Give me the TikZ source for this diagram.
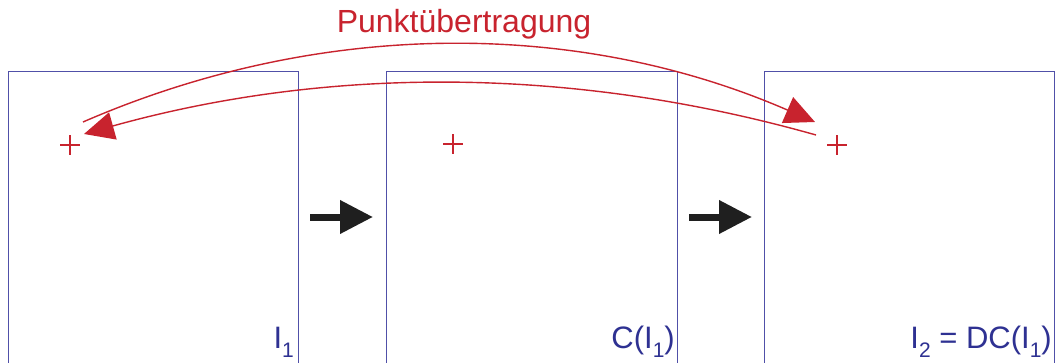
\documentclass[tikz,border=0pt]{standalone}
\usepackage{fontspec}
\setmainfont{Liberation Sans}
\usetikzlibrary{arrows.meta}
\definecolor{boxblue}{HTML}{5050A8}
\definecolor{txtblue}{HTML}{2E3192}
\definecolor{pred}{HTML}{C8232E}
\newcommand\lowidx[1]{\raisebox{-9pt}{\fontsize{21}{21}\selectfont #1}}
\begin{document}
\begin{tikzpicture}[x=1pt,y=1pt,
  frame/.style={draw=boxblue, line width=1pt, minimum width=290pt, minimum height=310pt, anchor=north west, inner sep=0pt, outer sep=0pt},
  cross/.style={draw=pred, line width=1.3pt},
  transfer/.style={draw=pred, line width=1.4pt, -{Triangle[length=30pt,width=28pt]}},
  flow/.style={draw=black!88, line width=7pt, -{Triangle[length=33pt,width=32pt]}},
  lab/.style={text=txtblue, font=\fontsize{31}{37}\selectfont, anchor=base east, inner sep=0pt},
  ttl/.style={text=pred, font=\fontsize{32}{38}\selectfont, anchor=base, inner sep=0pt}]
\useasboundingbox (0,0) rectangle (1055,362);
\clip (0,0) rectangle (1055,362);
\fill[white] (0,0) rectangle (1055,362);
% frames
\node[frame] (b1) at (8,290) {};
\node[frame, minimum width=291pt] (b2) at (386,290) {};
\node[frame] (b3) at (764,290) {};
% points
\coordinate (p1) at (70,217);
\coordinate (p2) at (453,218);
\coordinate (p3) at (837,217);
\foreach \p in {p1,p2,p3}{
  \draw[cross] ([xshift=-10pt]\p) -- ([xshift=10pt]\p);
  \draw[cross] ([yshift=-10pt]\p) -- ([yshift=10pt]\p);
}
% transfer curves
\coordinate (u1) at (83,240);
\coordinate (u2) at (815,240);
\coordinate (l1) at (816,227);
\coordinate (l2) at (84,228);
\draw[transfer] (u1) .. controls (320,343) and (578,343) .. (u2);
\draw[transfer] (l1) .. controls (572,296) and (328,296) .. (l2);
\node[ttl] (title) at (464,329) {Punktübertragung};
% flow arrows
\coordinate (f1s) at (310,145);
\coordinate (f1e) at (373,145);
\coordinate (f2s) at (689,145);
\coordinate (f2e) at (752,145);
\draw[flow] (f1s) -- (f1e);
\draw[flow] (f2s) -- (f2e);
% labels
\node[lab] (l1lab) at (294,14) {I\lowidx{1}};
\node[lab] (l2lab) at (675,14) {C(I\lowidx{1})};
\node[lab] (l3lab) at (1052,14) {I\lowidx{2} = DC(I\lowidx{1})};
\end{tikzpicture}
\end{document}
